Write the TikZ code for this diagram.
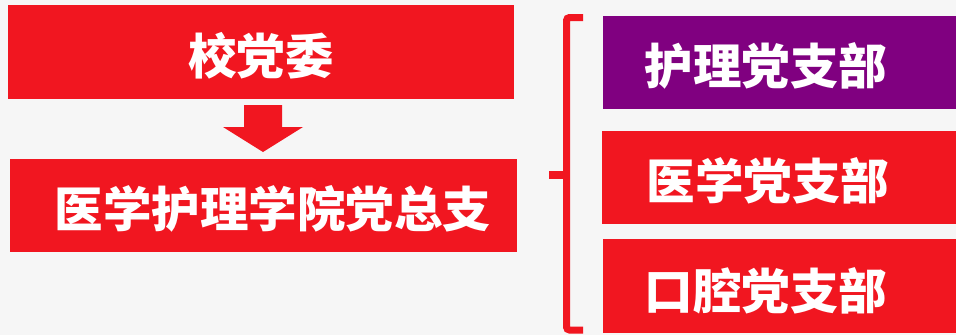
\documentclass[tikz,border=0pt]{standalone}
\usepackage{fontspec}
\newfontfamily\cjk{Noto Sans CJK SC}
\usetikzlibrary{calc}
\definecolor{bgc}{HTML}{F6F6F6}
\definecolor{boxred}{HTML}{F11620}
\definecolor{boxpurple}{HTML}{800080}
\tikzset{
  lbl/.style={text=white, font=\cjk\bfseries\fontsize{48.5}{50}\selectfont, inner sep=0pt},
}
\begin{document}
\begin{tikzpicture}[x=1pt,y=-1pt]
\fill[bgc] (0,0) rectangle (956,335);
\useasboundingbox (0,0) rectangle (956,335);
% left boxes
\fill[boxred] (8,5) rectangle (514,99);
\node[lbl] (top) at (261,56) {校党委};
\fill[boxred] (10,159) rectangle (517,252);
\node[lbl] (mid) at (273,209) {医学护理学院党总支};
% arrow
\coordinate (atop) at (263,105);
\fill[boxred] ($(atop)+(-19,0)$) -- ($(atop)+(19,0)$) -- ($(atop)+(19,22)$) -- ($(atop)+(40,22)$) -- ($(atop)+(0,47)$) -- ($(atop)+(-40,22)$) -- ($(atop)+(-19,22)$) -- cycle;
% right boxes
\fill[boxpurple] (603,16) rectangle (956,109);
\node[lbl] (b1) at (766,66) {护理党支部};
\fill[boxred] (602,131) rectangle (956,224);
\node[lbl] (b2) at (768,181) {医学党支部};
\fill[boxred] (603,239) rectangle (956,333);
\node[lbl] (b3) at (766,291) {口腔党支部};
% brace
\draw[boxred, line width=7pt, rounded corners=3pt] (583,17.5) -- (566.5,17.5) -- (566.5,330) -- (583,330);
\draw[boxred, line width=8pt] (566.5,175) -- (549,175);
\end{tikzpicture}
\end{document}
